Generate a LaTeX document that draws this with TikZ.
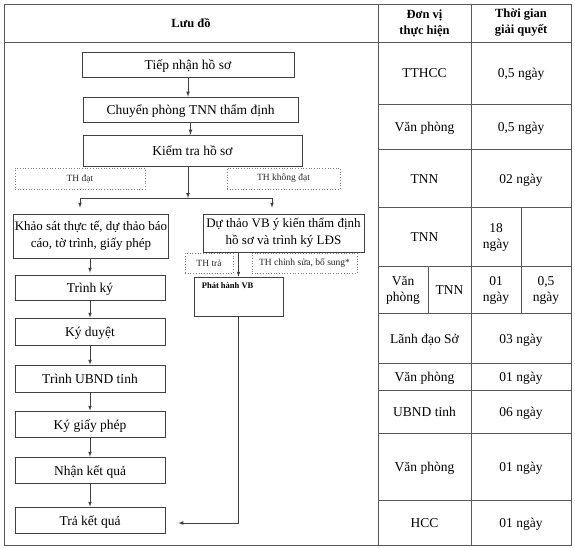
\documentclass[tikz,border=0pt]{standalone}
\usepackage{fontspec}
\setmainfont{Liberation Serif}
\usetikzlibrary{arrows}

\begin{document}
\begin{tikzpicture}[x=1pt, y=-1pt,
	box/.style={draw=black!75, line width=0.7pt, align=center, inner sep=0pt, font=\fontsize{13.5}{17}\selectfont},
	twoline/.style={box, font=\fontsize{13}{17}\selectfont},
	one/.style={text height=10pt, text depth=0pt},
	case/.style={draw=black!50, dotted, line width=0.7pt, inner sep=0pt, text=black!85, font=\fontsize{9.5}{11}\selectfont},
	arr/.style={draw=black!75, line width=0.7pt, -latex},
	grid/.style={draw=black!65, line width=0.7pt},
	cell/.style={align=center, font=\fontsize{13.5}{16.5}\selectfont},
	head/.style={align=center, font=\bfseries\fontsize{12.5}{16}\selectfont}]
	\useasboundingbox (0,0) rectangle (575,548);
	\draw [grid] (4,4) rectangle (571,545);
	\draw [grid] (4,42) -- (571,42);
	\draw [grid] (378,4) -- (378,545);
	\draw [grid] (471,4) -- (471,545);
	\foreach \y in {104,149,207,266,313,363,390,433,500}
	\draw [grid] (378,\y) -- (571,\y);
	\draw [grid] (521,207) -- (521,313);
	\draw [grid] (428,266) -- (428,313);
	\node [head] (hluu) at (191,23) {Lưu đồ};
	\node [head] (hdv) at (424.5,23) {Đơn vị\\thực hiện};
	\node [head] (htg) at (521,23) {Thời gian\\giải quyết};
	\foreach \i/\y/\u/\t in {1/73/TTHCC/{0,5 ngày}, 2/126.5/Văn phòng/{0,5 ngày}, 3/178/TNN/02 ngày, 6/338/Lãnh đạo Sở/03 ngày, 7/376.5/Văn phòng/01 ngày, 8/411.5/UBND tỉnh/06 ngày, 9/466.5/Văn phòng/01 ngày, 10/522/HCC/01 ngày}
	{
		\node [cell, one] (dv\i) at (424.5,\y) {\u};
		\node [cell, one] (tg\i) at (521,\y) {\t};
	}
	\node [cell, one] (dv4) at (424.5,236.5) {TNN};
	\node [cell] (tg4) at (496,237.5) {18\\ngày};
	\node [cell] (dv5a) at (403,290.5) {Văn\\phòng};
	\node [cell, one] (dv5b) at (449.5,289.5) {TNN};
	\node [cell] (tg5a) at (496,290.5) {01\\ngày};
	\node [cell] (tg5b) at (546,290.5) {0,5\\ngày};
	\node [box, one, minimum width=212pt, minimum height=25pt] (tiep) at (188,64.5) {Tiếp nhận hồ sơ};
	\node [box, one, minimum width=215pt, minimum height=25pt] (chuyen) at (190.5,109.5) {Chuyển phòng TNN thẩm định};
	\node [box, one, minimum width=219pt, minimum height=31pt] (kiemtra) at (192.5,150.5) {Kiểm tra hồ sơ};
	\node [case, minimum width=130pt, minimum height=21pt] (dat) at (80,178.5) {TH đạt};
	\node [case, minimum width=113pt, minimum height=21pt] (khongdat) at (283.5,178.5) {TH không đạt};
	\node [twoline, minimum width=155pt, minimum height=44pt] (khaosat) at (91,236) {Khảo sát thực tế, dự thảo báo\\cáo, tờ trình, giấy phép};
	\node [twoline, minimum width=161pt, minimum height=38pt] (duthao) at (283.5,233) {Dự thảo VB ý kiến thẩm định\\hồ sơ và trình ký LĐS};
	\node [case, minimum width=48pt, minimum height=20pt] (tra) at (209,263) {TH trả};
	\node [case, minimum width=105pt, minimum height=20pt] (chinhsua) at (304.5,263) {TH chỉnh sửa, bổ sung*};
	\node [box, minimum width=89pt, minimum height=39pt] (phathanh) at (238.5,296.5) {};
	\node [anchor=north west, inner sep=0pt, font=\bfseries\fontsize{8.5}{10}\selectfont] (phtext) at ([xshift=8pt,yshift=-6pt]phathanh.north west) {Phát hành VB};
	\foreach \n/\y/\h/\t in {trinhky/287.5/25/Trình ký, kyduyet/331.5/27/Ký duyệt, trinhubnd/378.5/27/Trình UBND tỉnh, kygp/424/26/Ký giấy phép, nhankq/470/26/Nhận kết quả, trakq/520/26/Trả kết quả}
	\node [box, one, minimum width=150pt, minimum height=\h pt] (\n) at (90,\y) {\t};
	\draw [arr] (tiep.south) -- (tiep.south |- chuyen.north);
	\draw [arr] (chuyen.south) -- (chuyen.south |- kiemtra.north);
	\coordinate (jn) at (188,198);
	\coordinate (jl) at (80,198);
	\coordinate (jr) at (272,198);
	\draw [arr] (kiemtra.south -| jn) -- (jn);
	\draw [grid, draw=black!75] (jl) -- (jr);
	\draw [arr, shorten >=6pt] (jl) -- (jl |- khaosat.north);
	\draw [arr, shorten >=6pt] (jr) -- (jr |- duthao.north);
	\draw [arr, shorten >=2pt] (khaosat.south -| trinhky.north) -- (trinhky.north);
	\foreach \a/\b in {trinhky/kyduyet, kyduyet/trinhubnd, trinhubnd/kygp, kygp/nhankq, nhankq/trakq}
	\draw [arr] (\a.south) -- (\b.north);
	\draw [arr] (phathanh.north |- duthao.south) -- (phathanh.north);
	\draw [arr, shorten >=13pt] (phathanh.south) |- ([yshift=-3pt]trakq.east);
\end{tikzpicture}
\end{document}
